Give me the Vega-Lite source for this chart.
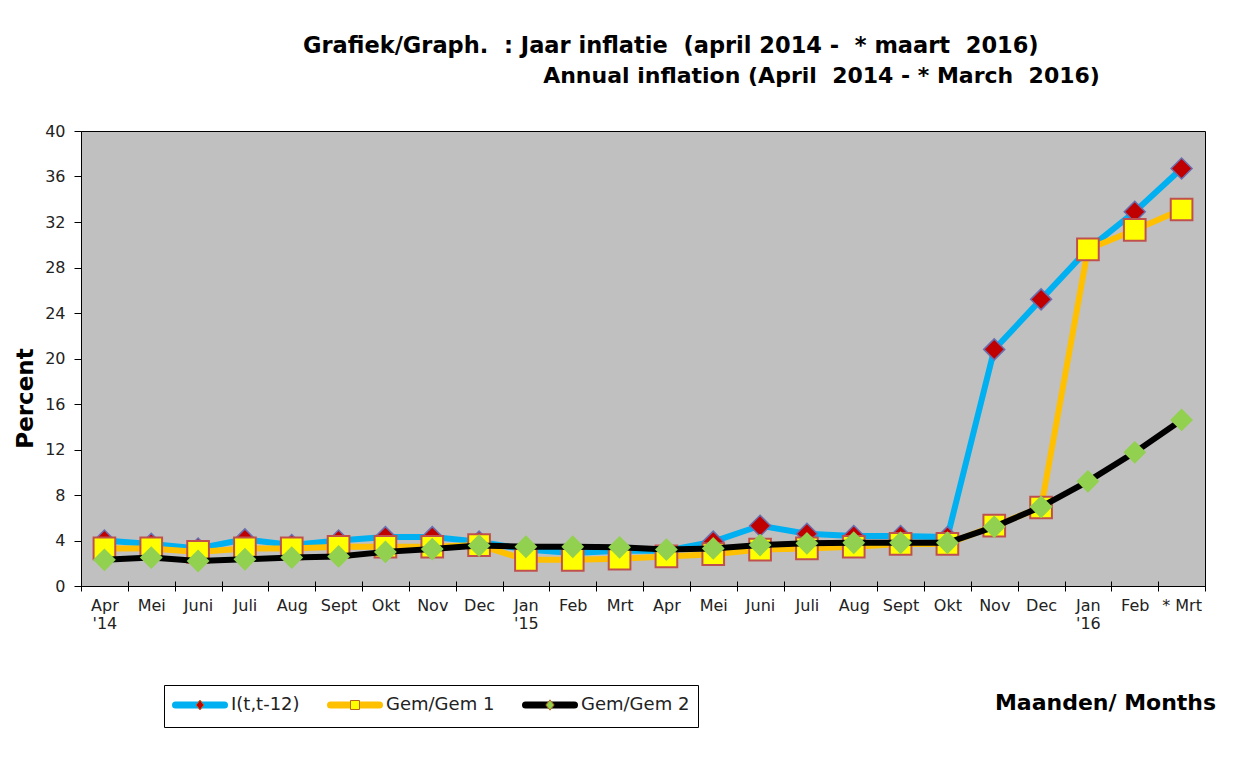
{
  "$schema": "https://vega.github.io/schema/vega-lite/v6.json",
  "width": 1124,
  "height": 455,
  "autosize": {"type": "none"},
  "padding": {"left": 81, "top": 131, "right": 45, "bottom": 175},
  "background": "white",
  "title": {
    "text": "Grafiek/Graph. \u00a0: Jaar inflatie \u00a0(april 2014 - \u00a0* maart \u00a02016)",
    "anchor": "start",
    "frame": "group",
    "dx": 222,
    "offset": -16,
    "baseline": "bottom",
    "font": "DejaVu Sans",
    "fontSize": 22.5,
    "fontWeight": "bold",
    "color": "black"
  },
  "config": {
    "view": {"fill": "#C0C0C0", "stroke": "black", "strokeWidth": 1},
    "axis": {"grid": false, "labelFont": "DejaVu Sans", "titleFont": "DejaVu Sans", "domainColor": "black", "tickColor": "black", "labelColor": "#222222", "titleColor": "black"}
  },
  "data": {"values": [
    {"i": 0, "m": "Apr '14", "s": "I(t,t-12)", "v": 4.0},
    {"i": 1, "m": "Mei", "s": "I(t,t-12)", "v": 3.7},
    {"i": 2, "m": "Juni", "s": "I(t,t-12)", "v": 3.3},
    {"i": 3, "m": "Juli", "s": "I(t,t-12)", "v": 4.1},
    {"i": 4, "m": "Aug", "s": "I(t,t-12)", "v": 3.6},
    {"i": 5, "m": "Sept", "s": "I(t,t-12)", "v": 4.0},
    {"i": 6, "m": "Okt", "s": "I(t,t-12)", "v": 4.3},
    {"i": 7, "m": "Nov", "s": "I(t,t-12)", "v": 4.3},
    {"i": 8, "m": "Dec", "s": "I(t,t-12)", "v": 3.9},
    {"i": 9, "m": "Jan '15", "s": "I(t,t-12)", "v": 3.2},
    {"i": 10, "m": "Feb", "s": "I(t,t-12)", "v": 2.9},
    {"i": 11, "m": "Mrt", "s": "I(t,t-12)", "v": 3.1},
    {"i": 12, "m": "Apr", "s": "I(t,t-12)", "v": 3.1},
    {"i": 13, "m": "Mei", "s": "I(t,t-12)", "v": 3.9},
    {"i": 14, "m": "Juni", "s": "I(t,t-12)", "v": 5.3},
    {"i": 15, "m": "Juli", "s": "I(t,t-12)", "v": 4.6},
    {"i": 16, "m": "Aug", "s": "I(t,t-12)", "v": 4.4},
    {"i": 17, "m": "Sept", "s": "I(t,t-12)", "v": 4.4},
    {"i": 18, "m": "Okt", "s": "I(t,t-12)", "v": 4.3},
    {"i": 19, "m": "Nov", "s": "I(t,t-12)", "v": 20.8},
    {"i": 20, "m": "Dec", "s": "I(t,t-12)", "v": 25.2},
    {"i": 21, "m": "Jan '16", "s": "I(t,t-12)", "v": 29.6},
    {"i": 22, "m": "Feb", "s": "I(t,t-12)", "v": 32.9},
    {"i": 23, "m": "* Mrt", "s": "I(t,t-12)", "v": 36.7},
    {"i": 0, "m": "Apr '14", "s": "Gem/Gem 1", "v": 3.3},
    {"i": 1, "m": "Mei", "s": "Gem/Gem 1", "v": 3.3},
    {"i": 2, "m": "Juni", "s": "Gem/Gem 1", "v": 3.0},
    {"i": 3, "m": "Juli", "s": "Gem/Gem 1", "v": 3.3},
    {"i": 4, "m": "Aug", "s": "Gem/Gem 1", "v": 3.3},
    {"i": 5, "m": "Sept", "s": "Gem/Gem 1", "v": 3.45},
    {"i": 6, "m": "Okt", "s": "Gem/Gem 1", "v": 3.45},
    {"i": 7, "m": "Nov", "s": "Gem/Gem 1", "v": 3.45},
    {"i": 8, "m": "Dec", "s": "Gem/Gem 1", "v": 3.6},
    {"i": 9, "m": "Jan '15", "s": "Gem/Gem 1", "v": 2.3},
    {"i": 10, "m": "Feb", "s": "Gem/Gem 1", "v": 2.3},
    {"i": 11, "m": "Mrt", "s": "Gem/Gem 1", "v": 2.4},
    {"i": 12, "m": "Apr", "s": "Gem/Gem 1", "v": 2.6},
    {"i": 13, "m": "Mei", "s": "Gem/Gem 1", "v": 2.8},
    {"i": 14, "m": "Juni", "s": "Gem/Gem 1", "v": 3.2},
    {"i": 15, "m": "Juli", "s": "Gem/Gem 1", "v": 3.3},
    {"i": 16, "m": "Aug", "s": "Gem/Gem 1", "v": 3.45},
    {"i": 17, "m": "Sept", "s": "Gem/Gem 1", "v": 3.7},
    {"i": 18, "m": "Okt", "s": "Gem/Gem 1", "v": 3.7},
    {"i": 19, "m": "Nov", "s": "Gem/Gem 1", "v": 5.3},
    {"i": 20, "m": "Dec", "s": "Gem/Gem 1", "v": 6.9},
    {"i": 21, "m": "Jan '16", "s": "Gem/Gem 1", "v": 29.6},
    {"i": 22, "m": "Feb", "s": "Gem/Gem 1", "v": 31.3},
    {"i": 23, "m": "* Mrt", "s": "Gem/Gem 1", "v": 33.1},
    {"i": 0, "m": "Apr '14", "s": "Gem/Gem 2", "v": 2.3},
    {"i": 1, "m": "Mei", "s": "Gem/Gem 2", "v": 2.5},
    {"i": 2, "m": "Juni", "s": "Gem/Gem 2", "v": 2.2},
    {"i": 3, "m": "Juli", "s": "Gem/Gem 2", "v": 2.35},
    {"i": 4, "m": "Aug", "s": "Gem/Gem 2", "v": 2.5},
    {"i": 5, "m": "Sept", "s": "Gem/Gem 2", "v": 2.6},
    {"i": 6, "m": "Okt", "s": "Gem/Gem 2", "v": 3.0},
    {"i": 7, "m": "Nov", "s": "Gem/Gem 2", "v": 3.25},
    {"i": 8, "m": "Dec", "s": "Gem/Gem 2", "v": 3.55},
    {"i": 9, "m": "Jan '15", "s": "Gem/Gem 2", "v": 3.45},
    {"i": 10, "m": "Feb", "s": "Gem/Gem 2", "v": 3.45},
    {"i": 11, "m": "Mrt", "s": "Gem/Gem 2", "v": 3.4},
    {"i": 12, "m": "Apr", "s": "Gem/Gem 2", "v": 3.2},
    {"i": 13, "m": "Mei", "s": "Gem/Gem 2", "v": 3.3},
    {"i": 14, "m": "Juni", "s": "Gem/Gem 2", "v": 3.6},
    {"i": 15, "m": "Juli", "s": "Gem/Gem 2", "v": 3.75},
    {"i": 16, "m": "Aug", "s": "Gem/Gem 2", "v": 3.8},
    {"i": 17, "m": "Sept", "s": "Gem/Gem 2", "v": 3.8},
    {"i": 18, "m": "Okt", "s": "Gem/Gem 2", "v": 3.8},
    {"i": 19, "m": "Nov", "s": "Gem/Gem 2", "v": 5.2},
    {"i": 20, "m": "Dec", "s": "Gem/Gem 2", "v": 6.96},
    {"i": 21, "m": "Jan '16", "s": "Gem/Gem 2", "v": 9.2},
    {"i": 22, "m": "Feb", "s": "Gem/Gem 2", "v": 11.75},
    {"i": 23, "m": "* Mrt", "s": "Gem/Gem 2", "v": 14.6}
  ]},
  "encoding": {
    "x": {"field": "i", "type": "ordinal", "scale": {"type": "band", "paddingInner": 0, "paddingOuter": 0}},
    "y": {"field": "v", "type": "quantitative", "scale": {"domain": [0, 40], "nice": false},
      "axis": {"values": [0, 4, 8, 12, 16, 20, 24, 28, 32, 36, 40], "tickSize": 7, "labelPadding": 9, "labelFontSize": 16, "title": "Percent", "titleFontSize": 23, "titleFontWeight": "bold", "titleX": -56, "titleY": 267, "titleAlign": "center", "titleBaseline": "middle", "titleAngle": -90}}
  },
  "layer": [
    {
      "transform": [{"filter": "datum.s == 'I(t,t-12)'"}],
      "mark": {"type": "line", "strokeWidth": 6},
      "encoding": {
        "x": {"field": "i", "type": "ordinal", "axis": {
          "orient": "bottom", "tickBand": "extent", "tickSize": 5, "labelPadding": 6, "labelFontSize": 16, "labelLineHeight": 18, "labelOverlap": false, "labelAngle": 0, "labelBaseline": "top",
          "labelExpr": "[['Apr',\"'14\"],'Mei','Juni','Juli','Aug','Sept','Okt','Nov','Dec',['Jan',\"'15\"],'Feb','Mrt','Apr','Mei','Juni','Juli','Aug','Sept','Okt','Nov','Dec',['Jan',\"'16\"],'Feb','* Mrt'][datum.value]",
          "title": "Maanden/ Months", "titleFontSize": 22, "titleFontWeight": "bold", "titleX": 1024, "titleY": 116, "titleAlign": "center", "titleBaseline": "middle"}},
        "stroke": {"field": "s", "type": "nominal", "sort": ["I(t,t-12)", "Gem/Gem 1", "Gem/Gem 2"],
          "scale": {"range": ["#00B0F0", "#FFC000", "#000000"]},
          "legend": {"orient": "none", "legendX": 83, "legendY": 554, "direction": "horizontal", "title": null,
            "symbolType": "M-1,0L4.765,0", "symbolSize": 289, "symbolStrokeWidth": 7,
            "labelFont": "DejaVu Sans", "labelFontSize": 18, "labelColor": "#222222", "labelOffset": 35, "columnPadding": 16, "gridAlign": "each",
            "padding": 8, "strokeColor": "black",
            "encode": {"symbols": {"update": {"strokeCap": {"value": "round"}}}}}}
      }
    },
    {
      "transform": [{"filter": "datum.s == 'I(t,t-12)'"}],
      "mark": {"type": "point", "shape": "diamond", "size": 440, "filled": true, "fill": "#C00000", "stroke": "#6A6FB0", "strokeWidth": 1.5, "opacity": 1},
      "encoding": {
        "x": {"field": "i", "type": "ordinal", "axis": {"orient": "top", "labels": false, "ticks": false, "domain": false,
          "title": "Annual inflation (April \u00a02014 - * March \u00a02016)", "titleFontSize": 22, "titleFontWeight": "bold", "titleX": 740, "titleY": -56, "titleAlign": "center", "titleBaseline": "middle"}}
      }
    },
    {
      "transform": [{"filter": "datum.s == 'Gem/Gem 1'"}],
      "mark": {"type": "line", "strokeWidth": 6},
      "encoding": {
        "x": {"field": "i", "type": "ordinal", "axis": {"orient": "bottom", "tickBand": "extent", "tickSize": -5, "labels": false, "domain": false, "title": null}},
        "stroke": {"field": "s", "type": "nominal", "sort": ["I(t,t-12)", "Gem/Gem 1", "Gem/Gem 2"]}
      }
    },
    {
      "transform": [{"filter": "datum.s == 'Gem/Gem 1'"}],
      "mark": {"type": "point", "shape": "square", "size": 470, "filled": true, "fill": "#FFFF00", "stroke": "#C0504D", "strokeWidth": 2, "opacity": 1},
      "encoding": {
        "x": {"field": "i", "type": "ordinal", "axis": null}
      }
    },
    {
      "transform": [{"filter": "datum.s == 'Gem/Gem 2'"}],
      "mark": {"type": "line", "strokeWidth": 6},
      "encoding": {
        "x": {"field": "i", "type": "ordinal", "axis": null},
        "stroke": {"field": "s", "type": "nominal", "sort": ["I(t,t-12)", "Gem/Gem 1", "Gem/Gem 2"]}
      }
    },
    {
      "transform": [{"filter": "datum.s == 'Gem/Gem 2'"}],
      "mark": {"type": "point", "shape": "diamond", "size": 520, "filled": true, "fill": "#92D050", "strokeWidth": 0, "opacity": 1},
      "encoding": {
        "x": {"field": "i", "type": "ordinal", "axis": null}
      }
    },
    {
      "transform": [{"filter": "datum.s == 'none'"}],
      "mark": {"type": "point", "filled": true, "stroke": "#B5651D", "strokeWidth": 1, "opacity": 1},
      "encoding": {
        "x": {"field": "i", "type": "ordinal", "axis": null},
        "fill": {"field": "s", "type": "nominal",
          "scale": {"domain": ["I(t,t-12)", "Gem/Gem 1", "Gem/Gem 2"], "range": ["#C00000", "#FFFF00", "#92D050"]},
          "legend": {"orient": "none", "legendX": 83, "legendY": 554, "direction": "horizontal", "title": null,
            "symbolSize": 529, "symbolStrokeWidth": 1,
            "labelExpr": "''", "labelFontSize": 18, "labelOffset": 143, "columnPadding": 6, "gridAlign": "all",
            "padding": 8}},
        "shape": {"field": "s", "type": "nominal",
          "scale": {"domain": ["I(t,t-12)", "Gem/Gem 1", "Gem/Gem 2"], "range": ["M1.061,0L1.391,-0.43L1.721,0L1.391,0.43Z", "M-0.565,-0.391L0.217,-0.391L0.217,0.391L-0.565,0.391Z", "M1.379,0L1.739,-0.45L2.099,0L1.739,0.45Z"]},
          "legend": {"orient": "none", "legendX": 83, "legendY": 554, "direction": "horizontal", "title": null,
            "symbolSize": 529, "symbolStrokeWidth": 1,
            "labelExpr": "''", "labelFontSize": 18, "labelOffset": 143, "columnPadding": 6, "gridAlign": "all",
            "padding": 8}}
      }
    }
  ],
  "resolve": {"axis": {"x": "independent"}}
}
